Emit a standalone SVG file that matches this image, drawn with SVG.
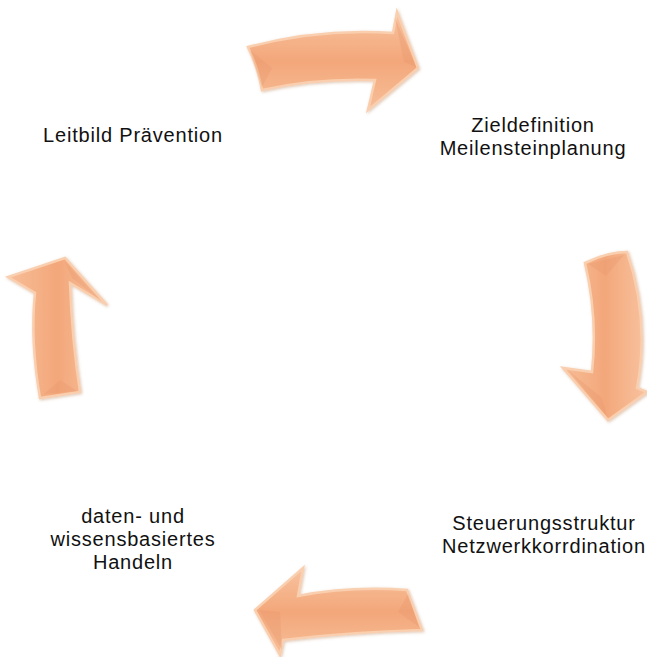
<svg xmlns="http://www.w3.org/2000/svg" width="647" height="657" viewBox="0 0 647 657">
<style>
.arrow{stroke:#F9CFAF;stroke-width:2.5;stroke-linejoin:miter;filter:url(#sh)}
.facet{fill:#E9996C;opacity:0.35}
.lbl{font-family:"Liberation Sans",Arial,sans-serif;font-size:20px;letter-spacing:0.8px;fill:#111;text-anchor:middle}
</style>
<defs>
<filter id="sh" x="-20%" y="-20%" width="140%" height="140%">
<feGaussianBlur in="SourceAlpha" stdDeviation="1.5"/>
<feOffset dx="1" dy="1" result="b"/>
<feFlood flood-color="#B07040" flood-opacity="0.4"/>
<feComposite in2="b" operator="in"/>
<feMerge><feMergeNode/><feMergeNode in="SourceGraphic"/></feMerge>
</filter>
<linearGradient id="gv" x1="0" y1="0" x2="0" y2="1">
<stop offset="0" stop-color="#F8C3A0"/><stop offset="0.5" stop-color="#F3A77A"/><stop offset="1" stop-color="#F7BE98"/>
</linearGradient>
<linearGradient id="gh" x1="0" y1="0" x2="1" y2="0">
<stop offset="0" stop-color="#F7BE98"/><stop offset="0.5" stop-color="#F3A77A"/><stop offset="1" stop-color="#F8C3A0"/>
</linearGradient>
</defs>
<g id="connectors">
<path id="arrow-top" class="arrow" fill="url(#gv)" d="M248,47 Q320,28 393,33 L397,12 L418,68 L368,110 L375,80 Q315,78 262,90 Q258,68 248,47 Z"/>
<path class="facet" d="M250,50 L272,68 L262,87 Z M395,18 L404,62 L416,67 Z"/>
<path id="arrow-right" class="arrow" fill="url(#gh)" d="M585,263 Q608,252 627,252 Q650,320 637,388 L647,392 L608,420 L563,368 L592,372 Q598,318 585,263 Z"/>
<path class="facet" d="M588,264 L606,276 L624,255 Z M568,370 L602,398 L607,416 Z"/>
<path id="arrow-bottom" class="arrow" fill="url(#gv)" d="M407,590 L422,630 Q350,632 283,640 L280,655 L255,610 L303,568 L298,596 Q350,586 407,590 Z"/>
<path class="facet" d="M408,594 L398,612 L419,627 Z M259,610 L280,612 L282,650 Z"/>
<path id="arrow-left" class="arrow" fill="url(#gh)" d="M40,398 Q30,340 35,293 L8,277 L65,258 L107,305 L70,283 Q72,340 80,392 Z"/>
<path class="facet" d="M65,262 L72,278 L102,302 Z M44,394 L60,380 L77,391 Z"/>
</g>
<g id="node-leitbild"><text class="lbl" x="133" y="142">Leitbild Prävention</text></g>
<g id="node-ziel"><text class="lbl" x="533" y="132">Zieldefinition</text><text class="lbl" x="533" y="155">Meilensteinplanung</text></g>
<g id="node-steuerung"><text class="lbl" x="544" y="530">Steuerungsstruktur</text><text class="lbl" x="544" y="553">Netzwerkkorrdination</text></g>
<g id="node-daten"><text class="lbl" x="133" y="523">daten- und</text><text class="lbl" x="133" y="546">wissensbasiertes</text><text class="lbl" x="133" y="569">Handeln</text></g>
</svg>
